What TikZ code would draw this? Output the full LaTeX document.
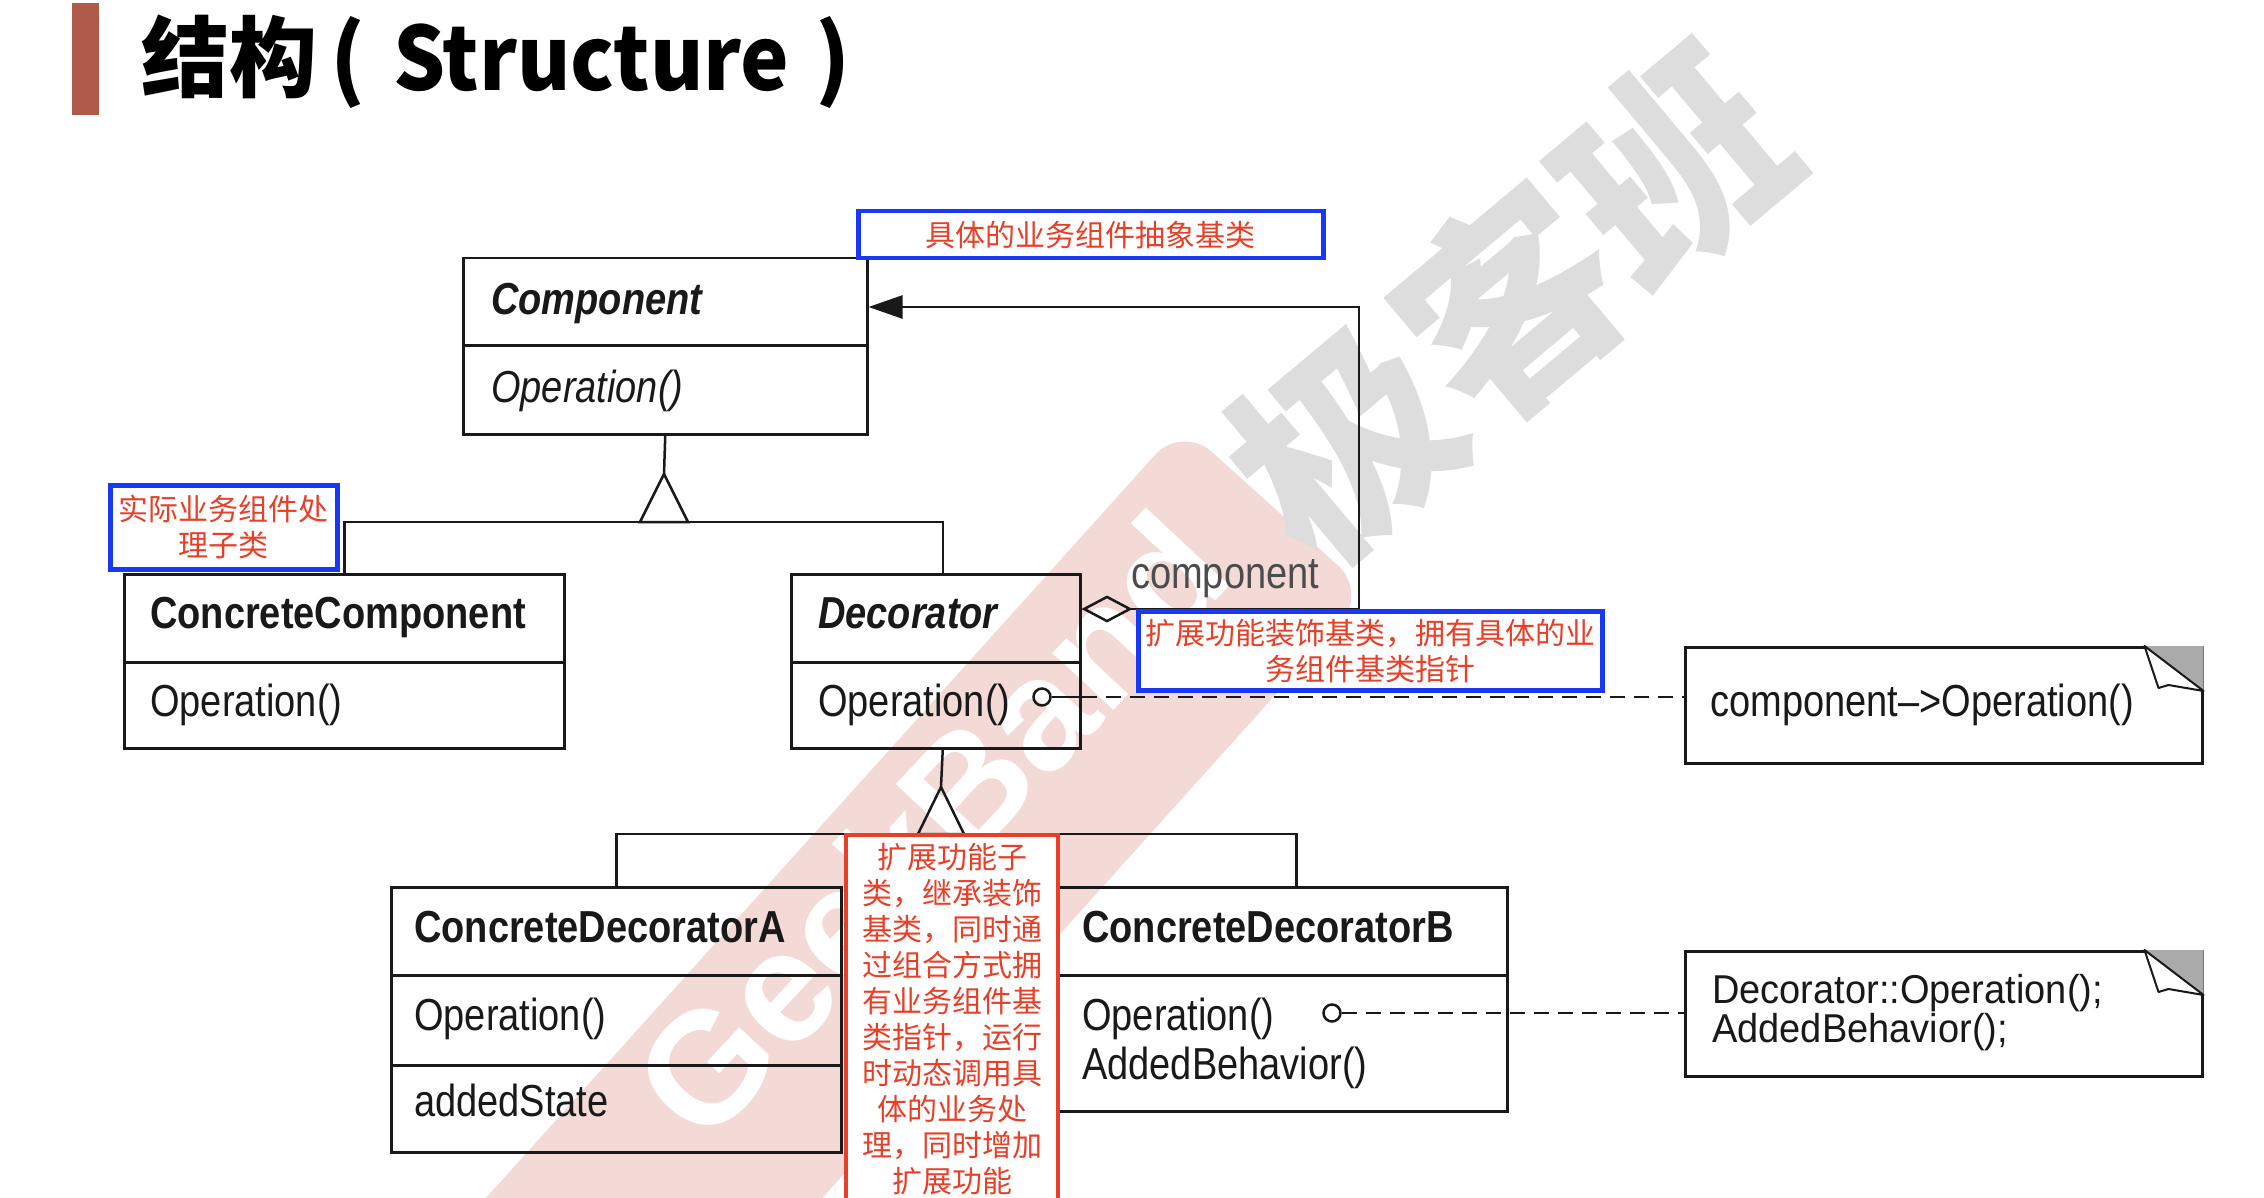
\documentclass[tikz,border=0pt]{standalone}
\usepackage{fontspec}
\setmainfont{Liberation Sans}
\newfontfamily\cjk{Noto Sans CJK SC}
\usetikzlibrary{arrows.meta}
\definecolor{annred}{RGB}{232,64,40}
\definecolor{annblue}{RGB}{24,56,245}
\definecolor{barcol}{RGB}{176,90,74}
\definecolor{wmpink}{RGB}{243,218,214}
\definecolor{wmgray}{RGB}{221,221,221}
\definecolor{linecol}{RGB}{25,25,25}
\definecolor{txtcol}{RGB}{25,25,25}
\definecolor{foldgray}{RGB}{170,170,170}
\newcommand\tx[1]{\scalebox{1}[1.18]{#1}}
\newcommand\txs[1]{\scalebox{1}[1.06]{#1}}
\tikzset{
  umlbox/.style={draw=linecol, line width=2.5pt, inner sep=0pt, anchor=north west},
  umlline/.style={draw=linecol, line width=2.5pt},
  dashline/.style={draw=linecol, line width=2.5pt, dash pattern=on 15pt off 9pt},
  umlrm/.style={anchor=base west, inner sep=0pt, text=txtcol, font=\fontsize{38}{44}\selectfont},
  umlit/.style={umlrm, font=\fontsize{38}{44}\selectfont\itshape},
  umlbf/.style={umlrm, font=\fontsize{38}{44}\selectfont\bfseries},
  umlbi/.style={umlrm, font=\fontsize{38}{44}\selectfont\bfseries\itshape},
  titletxt/.style={anchor=base west, inner sep=0pt, font=\cjk\bfseries\fontsize{88}{100}\selectfont},
  annbox/.style={draw=annblue, line width=4.5pt, fill=white, inner sep=0pt, anchor=north west,
    text=annred, align=center, font=\cjk\fontsize{30}{36}\selectfont},
}
\begin{document}
\begin{tikzpicture}[x=1pt,y=-1pt]
\useasboundingbox (0,0) rectangle (2264,1198);
\fill[white] (0,0) rectangle (2264,1198);

% watermarks
\begin{scope}
\clip (0,0) rectangle (2264,1198);
\node[fill=wmpink, rotate=48, minimum width=1500pt, minimum height=250pt, rounded corners=40pt, inner sep=0pt] (band) at (773,1066) {};
\node[rotate=47, text=white, inner sep=0pt, font=\fontsize{158}{158}\selectfont\bfseries] (gb) at (930,825) {GeekBand};
\node[rotate=40, text=wmgray, inner sep=0pt, font=\cjk\bfseries\fontsize{215}{215}\selectfont] (jkb) at (1509,303) {极客班};
\end{scope}

% title
\fill[barcol] (72,3) rectangle (99,115);
\node[titletxt] (title1) at (141,91) {结构};
\node[titletxt] (title2) at (330,91) {(};
\node[titletxt] (title3) at (393,91) {\scalebox{0.93}[1]{Structure}};
\node[titletxt] (title4) at (815,91) {)};

% Component
\node[umlbox, minimum width=404pt, minimum height=87pt] (compH) at (462,257) {};
\node[umlbox, minimum width=404pt, minimum height=89pt] (compB) at (462,344) {};
\node[umlbi] (compN) at (491,314) {\tx{Component}};
\node[umlit] (compO) at (491,402) {\tx{Operation()}};

% ConcreteComponent
\node[umlbox, minimum width=440pt, minimum height=88pt] (ccH) at (123,573) {};
\node[umlbox, minimum width=440pt, minimum height=86pt] (ccB) at (123,661) {};
\node[umlbf] (ccN) at (150,628) {\tx{ConcreteComponent}};
\node[umlrm] (ccO) at (150,716) {\tx{Operation()}};

% Decorator
\node[umlbox, minimum width=289pt, minimum height=88pt] (decH) at (790,573) {};
\node[umlbox, minimum width=289pt, minimum height=86pt] (decB) at (790,661) {};
\node[umlbi] (decN) at (818,628) {\tx{Decorator}};
\node[umlrm] (decO) at (818,716) {\tx{Operation()}};

% ConcreteDecoratorA
\node[umlbox, minimum width=450pt, minimum height=88pt] (cdaH) at (390,886) {};
\node[umlbox, minimum width=450pt, minimum height=90pt] (cdaB) at (390,974) {};
\node[umlbox, minimum width=450pt, minimum height=87pt] (cdaS) at (390,1064) {};
\node[umlbf] (cdaN) at (414,942) {\tx{ConcreteDecoratorA}};
\node[umlrm] (cdaO) at (414,1030) {\tx{Operation()}};
\node[umlrm] (cdaA) at (414,1116) {\tx{addedState}};

% ConcreteDecoratorB
\node[umlbox, minimum width=466pt, minimum height=88pt] (cdbH) at (1040,886) {};
\node[umlbox, minimum width=466pt, minimum height=136pt] (cdbB) at (1040,974) {};
\node[umlbf] (cdbN) at (1082,942) {\tx{ConcreteDecoratorB}};
\node[umlrm] (cdbO) at (1082,1030) {\tx{Operation()}};
\node[umlrm] (cdbA) at (1082,1079) {\tx{AddedBehavior()}};

% notes
\node[umlbox, minimum width=517pt, minimum height=116pt] (note1) at (1684,646) {};
\node[umlbox, minimum width=517pt, minimum height=125pt] (note2) at (1684,950) {};
\node[umlrm] (n1t) at (1710,716) {\tx{component–>Operation()}};
\node[umlrm] (n2t) at (1712,1003) {\txs{Decorator::Operation();}};
\node[umlrm] (n2u) at (1712,1042) {\txs{AddedBehavior();}};
\foreach \n in {note1,note2}{
  \fill[foldgray] (\n.north east) ++(-59,0) -- (\n.north east) -- ++(0,45) -- cycle;
  \draw[fill=white, line width=2pt, draw=linecol, line join=round]
    (\n.north east) ++(-59,0) -- ++(14,42) -- ++(10,-3) -- ++(35,6) -- cycle;
}

% inheritance 1
\coordinate (t1) at (664,474);
\coordinate (j1) at (664,522);
\draw[umlline] (compB.south) -- (t1);
\draw[umlline] (t1) -- (640,522) -- (688,522) -- cycle;
\draw[umlline] (ccH.north) |- (j1) -| ([xshift=7pt]decH.north);

% inheritance 2
\coordinate (t2) at (941,787);
\coordinate (j2) at (941,834);
\draw[umlline] ([xshift=7pt]decB.south) -- (t2);
\draw[umlline] (t2) -- (918,834) -- (964,834) -- cycle;
\draw[umlline] (cdaH.north) |- (j2) -| ([xshift=22pt]cdbH.north);

% aggregation
\coordinate (agg) at (1359,609);
\coordinate (aggTop) at (1359,307);
\draw[umlline, {Diamond[open,length=51pt,width=27pt]}-{Triangle[length=34pt,width=23pt]}]
  (decH.east |- agg) -- (agg) -- (aggTop) -- (compH.east |- aggTop);
\node[umlrm, text=black!70] (lbl) at (1131,588) {\tx{component}};

% note links
\node[circle, draw=linecol, line width=2.5pt, minimum size=17pt, inner sep=0pt] (c1) at (1042,697) {};
\draw[umlline] (c1.east) -- (decB.east |- c1);
\draw[dashline] (decB.east |- c1) -- (note1.west |- c1);
\node[circle, draw=linecol, line width=2.5pt, minimum size=17pt, inner sep=0pt] (c2) at (1332,1013) {};
\draw[dashline] (c2.east) -- (note2.west |- c2);

% annotations
\node[annbox, minimum width=465pt, minimum height=47pt] (a1) at (856,209) {具体的业务组件抽象基类};
\node[annbox, minimum width=227pt, minimum height=84pt] (a2) at (108,483) {实际业务组件处\\理子类};
\node[annbox, minimum width=464pt, minimum height=79pt] (a3) at (1136,609) {扩展功能装饰基类，拥有具体的业\\务组件基类指针};
\node[annbox, draw=annred, line width=4pt, minimum width=212pt, minimum height=368pt] (a4) at (844,833)
  {扩展功能子\\类，继承装饰\\基类，同时通\\过组合方式拥\\有业务组件基\\类指针，运行\\时动态调用具\\体的业务处\\理，同时增加\\扩展功能};
\end{tikzpicture}
\end{document}
